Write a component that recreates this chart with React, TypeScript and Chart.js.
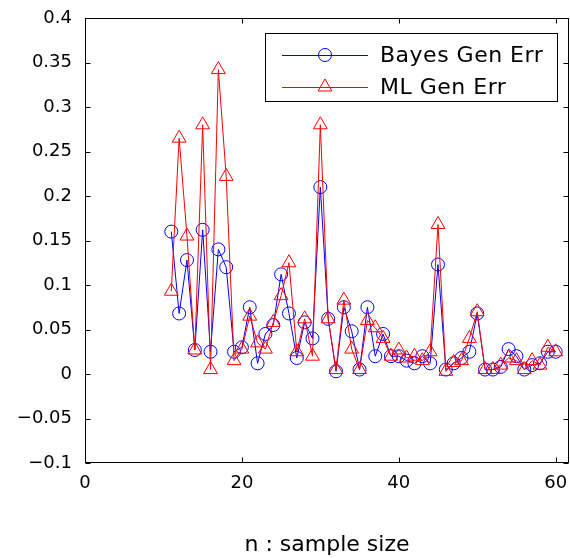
import React, { useEffect, useRef } from "react";
import { Chart, registerables } from "chart.js";

Chart.register(...registerables);

const sampleSizes = [
  11, 12, 13, 14, 15, 16, 17, 18, 19, 20,
  21, 22, 23, 24, 25, 26, 27, 28, 29, 30,
  31, 32, 33, 34, 35, 36, 37, 38, 39, 40,
  41, 42, 43, 44, 45, 46, 47, 48, 49, 50,
  51, 52, 53, 54, 55, 56, 57, 58, 59, 60,
];
const bayesGenErr = [
  0.16, 0.068, 0.128, 0.027, 0.162, 0.025, 0.14, 0.12, 0.025, 0.03,
  0.075, 0.012, 0.045, 0.055, 0.112, 0.068, 0.018, 0.058, 0.04, 0.21,
  0.062, 0.003, 0.075, 0.048, 0.005, 0.075, 0.02, 0.045, 0.02, 0.02,
  0.015, 0.012, 0.02, 0.012, 0.123, 0.005, 0.012, 0.018, 0.025, 0.068,
  0.005, 0.005, 0.008, 0.028, 0.02, 0.005, 0.01, 0.012, 0.025, 0.025,
];
const mlGenErr = [
  0.093, 0.265, 0.155, 0.027, 0.28, 0.005, 0.342, 0.222, 0.015, 0.028,
  0.065, 0.035, 0.028, 0.058, 0.088, 0.125, 0.025, 0.062, 0.02, 0.28,
  0.062, 0.005, 0.083, 0.028, 0.005, 0.06, 0.052, 0.04, 0.02, 0.027,
  0.018, 0.02, 0.015, 0.025, 0.168, 0.003, 0.013, 0.015, 0.04, 0.07,
  0.005, 0.005, 0.01, 0.018, 0.015, 0.005, 0.015, 0.01, 0.03, 0.025,
];
const xTickValues = [0, 20, 40, 60];
const yTickValues = [-0.1, -0.05, 0, 0.05, 0.1, 0.15, 0.2, 0.25, 0.3, 0.35, 0.4];
const seriesNames = ["Bayes Gen Err", "ML Gen Err"];
const xTitle = "n : sample size";

const BLUE = "#0000ff";
const RED = "#ff0000";
const FONT = "DejaVu Sans";

const framePlugin = {
  id: "frame",
  afterDatasetsDraw(chart: any) {
    const { ctx, chartArea } = chart;
    const xs = chart.scales.x;
    const ys = chart.scales.y;
    ctx.save();
    ctx.strokeStyle = "#000";
    ctx.lineWidth = 1;
    const l = Math.round(chartArea.left) + 0.5;
    const r = Math.round(chartArea.right) - 0.5;
    const t = Math.round(chartArea.top) + 0.5;
    const b = Math.round(chartArea.bottom) - 0.5;
    ctx.strokeRect(l, t, r - l, b - t);
    const len = 5;
    ctx.beginPath();
    for (const v of xTickValues) {
      const px = Math.round(xs.getPixelForValue(v)) + 0.5;
      ctx.moveTo(px, b);
      ctx.lineTo(px, b - len);
      ctx.moveTo(px, t);
      ctx.lineTo(px, t + len);
    }
    for (const v of yTickValues) {
      const py = Math.round(ys.getPixelForValue(v)) + 0.5;
      ctx.moveTo(l, py);
      ctx.lineTo(l + len, py);
      ctx.moveTo(r, py);
      ctx.lineTo(r - len, py);
    }
    ctx.stroke();
    ctx.restore();
  },
};

const legendPlugin = {
  id: "customLegend",
  afterDraw(chart: any) {
    const { ctx } = chart;
    const x0 = 265;
    const y0 = 33;
    const w = 292;
    const h = 68;
    ctx.save();
    ctx.fillStyle = "#fff";
    ctx.fillRect(x0, y0, w, h);
    ctx.strokeStyle = "#000";
    ctx.lineWidth = 1;
    ctx.strokeRect(x0 + 0.5, y0 + 0.5, w, h);
    const rows = [y0 + 22, y0 + 54];
    chart.data.datasets.forEach((ds: any, i: number) => {
      const y = rows[i];
      ctx.strokeStyle = ds.borderColor;
      ctx.lineWidth = 1;
      ctx.beginPath();
      ctx.moveTo(282, y + 0.5);
      ctx.lineTo(368, y + 0.5);
      ctx.stroke();
      const cx = 325;
      ctx.beginPath();
      if (ds.pointStyle === "circle") {
        ctx.arc(cx, y, ds.pointRadius, 0, Math.PI * 2);
      } else {
        const rr = ds.pointRadius;
        let a = 0;
        ctx.moveTo(cx + Math.sin(a) * rr, y - Math.cos(a) * rr);
        a += (2 * Math.PI) / 3;
        ctx.lineTo(cx + Math.sin(a) * rr, y - Math.cos(a) * rr);
        a += (2 * Math.PI) / 3;
        ctx.lineTo(cx + Math.sin(a) * rr, y - Math.cos(a) * rr);
        ctx.closePath();
      }
      ctx.stroke();
      ctx.fillStyle = "#000";
      ctx.font = `22px "${FONT}"`;
      try {
        (ctx as any).letterSpacing = "0.5px";
      } catch (e) {}
      ctx.textBaseline = "middle";
      ctx.textAlign = "left";
      ctx.fillText(ds.label, 380, y + 1);
    });
    ctx.restore();
  },
};

export default function App() {
  const canvasRef = useRef<HTMLCanvasElement | null>(null);

  useEffect(() => {
    document.body.style.margin = "0";
    const canvas = canvasRef.current;
    if (!canvas) return;
    const chart = new Chart(canvas, {
      type: "line",
      data: {
        datasets: [
          {
            label: seriesNames[0],
            data: sampleSizes.map((n, i) => ({ x: n, y: bayesGenErr[i] })),
            borderColor: BLUE,
            backgroundColor: "rgba(0,0,0,0)",
            borderWidth: 1,
            pointStyle: "circle",
            pointRadius: 6.5,
            pointBorderWidth: 1,
            pointBorderColor: BLUE,
            pointBackgroundColor: "rgba(0,0,0,0)",
            tension: 0,
            order: 1,
          },
          {
            label: seriesNames[1],
            data: sampleSizes.map((n, i) => ({ x: n, y: mlGenErr[i] })),
            borderColor: RED,
            backgroundColor: "rgba(0,0,0,0)",
            borderWidth: 1,
            pointStyle: "triangle",
            pointRadius: 8,
            pointBorderWidth: 1,
            pointBorderColor: RED,
            pointBackgroundColor: "rgba(0,0,0,0)",
            tension: 0,
            order: 0,
          },
        ],
      },
      options: {
        animation: false,
        responsive: false,
        maintainAspectRatio: false,
        devicePixelRatio: 1,
        layout: { autoPadding: false, padding: { left: 0, top: 18, right: 1, bottom: 0 } },
        plugins: {
          legend: { display: false },
          tooltip: { enabled: false },
        },
        scales: {
          x: {
            type: "linear",
            min: 0,
            max: 61.7,
            grid: { display: false, drawTicks: false },
            border: { display: false },
            afterBuildTicks: (scale: any) => {
              scale.ticks = xTickValues.map((v) => ({ value: v }));
            },
            afterFit: (scale: any) => {
              scale.height = 95;
              scale.paddingLeft = 0;
              scale.paddingRight = 0;
            },
            ticks: {
              color: "#000",
              padding: 10,
              maxRotation: 0,
              autoSkip: false,
              font: { family: FONT, size: 18 },
              callback: (v: any) => String(v),
            },
            title: {
              display: true,
              text: xTitle,
              color: "#000",
              font: { family: FONT, size: 22 },
              padding: { top: 0, bottom: 0 },
            },
          },
          y: {
            type: "linear",
            min: -0.1,
            max: 0.4,
            grid: { display: false, drawTicks: false },
            border: { display: false },
            afterBuildTicks: (scale: any) => {
              scale.ticks = yTickValues.map((v) => ({ value: v }));
            },
            afterFit: (scale: any) => {
              scale.width = 85;
              scale.paddingTop = 0;
              scale.paddingBottom = 0;
            },
            ticks: {
              color: "#000",
              padding: 13,
              autoSkip: false,
              font: { family: FONT, size: 18 },
              callback: (v: any) => {
                const n = Math.round(Number(v) * 100) / 100;
                if (n === 0) return "0";
                return String(n).replace("-", "\u2212");
              },
            },
          },
        },
      },
      plugins: [framePlugin, legendPlugin],
    });
    return () => chart.destroy();
  }, []);

  return (
    <div style={{ position: "relative", width: 570, height: 558, background: "#fff" }}>
      <canvas ref={canvasRef} width={570} height={558} style={{ display: "block" }} />
    </div>
  );
}
